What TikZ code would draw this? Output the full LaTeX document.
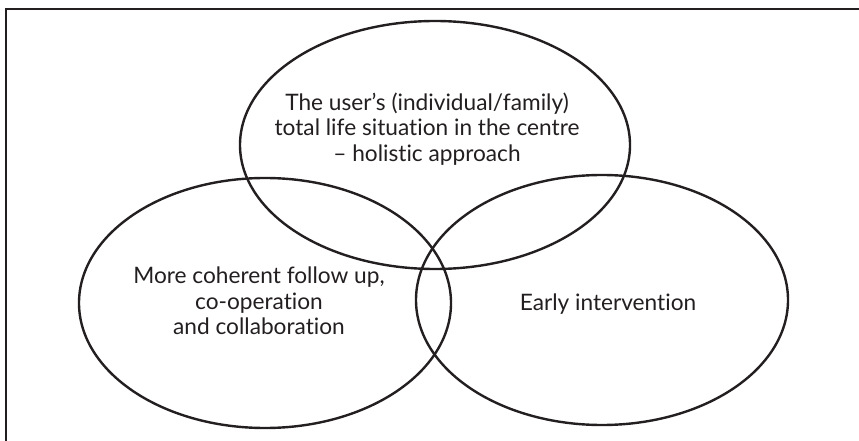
\documentclass[tikz,border=0pt]{standalone}
\usepackage{fontspec}
\setmainfont{Lato}[Ligatures=NoCommon]
\definecolor{inkgray}{HTML}{231F20}
\begin{document}
\begin{tikzpicture}[x=0.75pt, y=-0.75pt,
    setline/.style={draw=inkgray, line width=1.8pt},
    setlabel/.style={text=inkgray, align=center, inner sep=0pt,
      font=\fontsize{17}{19.2}\selectfont}]
    % Frame
    \useasboundingbox (0,0) rectangle (859,441);
    \draw[inkgray, line width=0.9pt] (6,441) -- (6,9) -- (859,9);

    % Sets
    \draw[setline] (435,145) ellipse [x radius=195, y radius=124];
    \draw[setline] (265,303) ellipse [x radius=186, y radius=125];
    \draw[setline] (602,300) ellipse [x radius=186, y radius=125];

    % Labels
    \node[setlabel] (user) at (427,129) {The user’s (individual/family)\\total life situation in the centre\\– holistic approach};
    \node[setlabel] (follow) at (259,301) {More coherent follow up,\\co-operation\\and collaboration};
    \node[setlabel] (early) at (608,304) {Early intervention};
\end{tikzpicture}
\end{document}
